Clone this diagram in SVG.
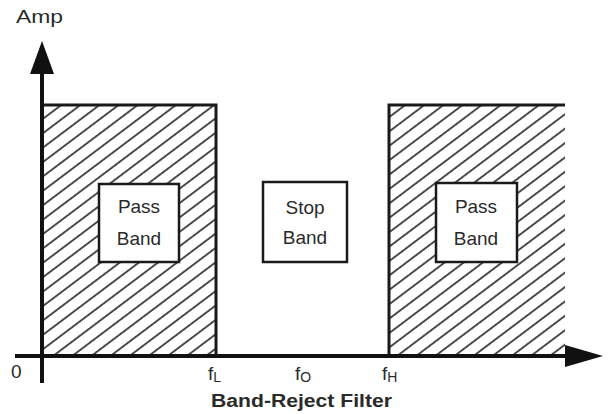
<svg xmlns="http://www.w3.org/2000/svg" width="609" height="414" viewBox="0 0 609 414">
  <style>
    .lbl { font-family: "Liberation Sans", Arial, sans-serif; fill: #2a2a2a; }
    .box { fill: #ffffff; stroke: #1a1a1a; stroke-width: 2.5; }
    .edge { fill: none; stroke: #1a1a1a; stroke-width: 3; }
    .axis { fill: none; stroke: #111; stroke-width: 4; }
  </style>
  <defs>
    <pattern id="hatch" patternUnits="userSpaceOnUse" width="20" height="11.5" patternTransform="rotate(-37)">
      <line x1="-5" y1="5.75" x2="25" y2="5.75" stroke="#222" stroke-width="1.6"/>
    </pattern>
  </defs>

  <g id="left-band">
    <rect x="42" y="105" width="174" height="251" fill="url(#hatch)"/>
    <polyline class="edge" points="42,105 216,105 216,356"/>
  </g>
  <g id="right-band">
    <rect x="389" y="105" width="176" height="251" fill="url(#hatch)"/>
    <polyline class="edge" points="389,356 389,105 565,105"/>
  </g>

  <g id="connectors">
    <line class="axis" x1="42" y1="383" x2="42" y2="74"/>
    <polygon points="42,41 30,74 54,74" fill="#111"/>
    <line class="axis" x1="15" y1="356" x2="566" y2="356"/>
    <polygon points="603,356 565,345 565,367" fill="#111"/>
  </g>

  <g id="pass-band-left">
    <rect class="box" x="99" y="184" width="80" height="78"/>
    <text class="lbl" x="139" y="213" font-size="19" text-anchor="middle">Pass</text>
    <text class="lbl" x="139" y="245" font-size="19" text-anchor="middle">Band</text>
  </g>
  <g id="stop-band">
    <rect class="box" x="263" y="182" width="84" height="80"/>
    <text class="lbl" x="305" y="214" font-size="19" text-anchor="middle">Stop</text>
    <text class="lbl" x="305" y="244" font-size="19" text-anchor="middle">Band</text>
  </g>
  <g id="pass-band-right">
    <rect class="box" x="436" y="183" width="81" height="79"/>
    <text class="lbl" x="476" y="213" font-size="19" text-anchor="middle">Pass</text>
    <text class="lbl" x="476" y="245" font-size="19" text-anchor="middle">Band</text>
  </g>

  <g id="labels">
    <text class="lbl" x="16" y="23" font-size="18" textLength="47" lengthAdjust="spacingAndGlyphs">Amp</text>
    <text class="lbl" x="11" y="378" font-size="19">0</text>
    <text class="lbl" x="208" y="380" font-size="19">f<tspan font-size="14" dy="2">L</tspan></text>
    <text class="lbl" x="295" y="380" font-size="19">f<tspan font-size="14" dy="2">O</tspan></text>
    <text class="lbl" x="382" y="380" font-size="19">f<tspan font-size="14" dy="2">H</tspan></text>
    <text class="lbl" x="211" y="407" font-size="18" font-weight="bold" textLength="181" lengthAdjust="spacingAndGlyphs">Band-Reject Filter</text>
  </g>
</svg>
